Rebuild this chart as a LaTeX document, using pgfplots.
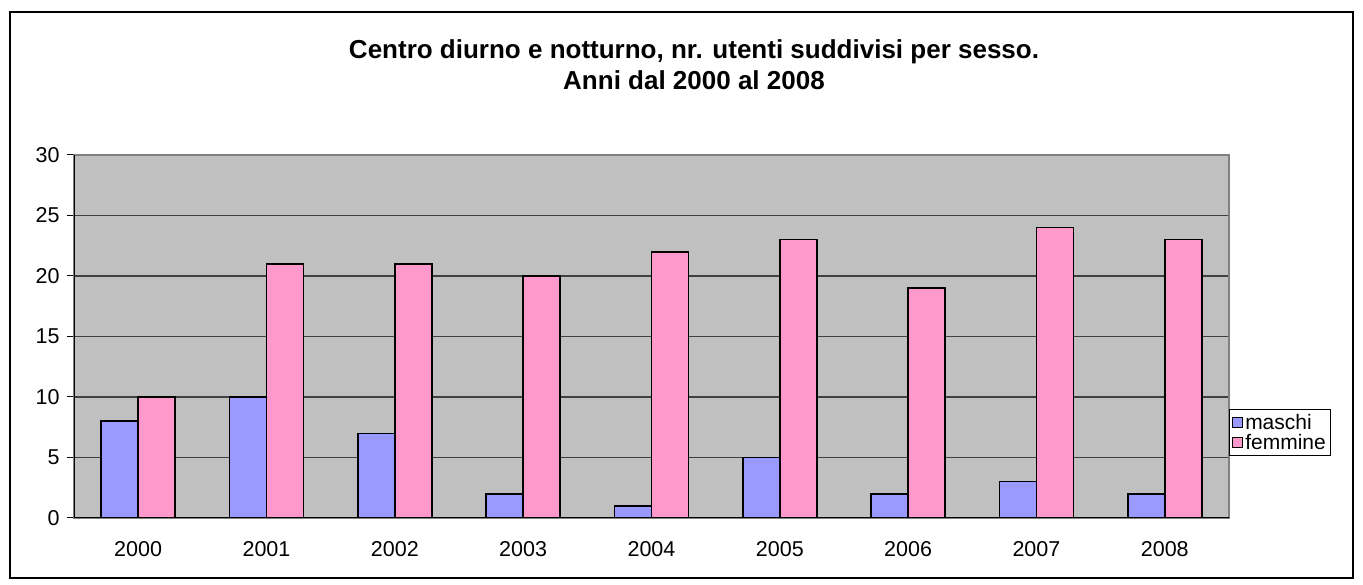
\documentclass[border=0pt]{standalone}
\usepackage{fontspec}
\setmainfont{Liberation Sans}
\usepackage{pgfplots}
\pgfplotsset{compat=1.18}
\definecolor{bgray}{RGB}{192,192,192}
\definecolor{cmaschi}{RGB}{153,153,255}
\definecolor{cfemmine}{RGB}{255,153,204}
\begin{document}
\begin{tikzpicture}[x=1pt,y=1pt]
\path (0,0) rectangle (1363,585);
\draw[line width=1.3pt] (10,7) rectangle (1353,573);
\node[font=\fontsize{26}{31}\selectfont\bfseries, align=center] at (694,520) {Centro diurno e notturno, nr. utenti suddivisi per sesso.\\Anni dal 2000 al 2008};
\begin{axis}[
  at={(74pt,67pt)}, anchor=south west,
  scale only axis, width=1155pt, height=363pt,
  xmin=-0.5, xmax=8.5, ymin=0, ymax=30,
  ytick={0,5,...,30},
  xtick={0,...,8},
  xticklabels={2000,2001,2002,2003,2004,2005,2006,2007,2008},
  extra x ticks={-0.5,0.5,...,8.5},
  extra x tick labels={},
  extra x tick style={major tick length=7pt, tick style={black, line width=1pt}, grid=none},
  x tick style={draw=none},
  y tick style={black, line width=1pt},
  tick pos=left,
  major tick length=7pt,
  tick align=outside,
  ymajorgrids,
  major grid style={draw=black!75, line width=1.2pt},
  axis line style={draw=black!50, line width=1.2pt},
  axis background/.style={fill=bgray},
  /pgf/number format/assume math mode=true,
  tick label style={font=\fontsize{21.5}{25}\selectfont},
  xticklabel style={yshift=-13pt},
  yticklabel style={xshift=-4pt},
  ybar, bar width=37pt,
  legend style={at={(1.0,0.2355)}, anchor=west, draw=black, line width=1pt,
    font=\fontsize{21}{24}\selectfont, row sep=0pt, inner xsep=3pt, inner ysep=2pt},
  legend cell align=left,
  legend image code/.code={\draw[#1, line width=0.8pt] (0pt,-5pt) rectangle (10pt,5pt);},
]
\addplot[fill=cmaschi, draw=black, line width=1.5pt, bar shift=-18.5pt] coordinates {(0,8) (1,10) (2,7) (3,2) (4,1) (5,5) (6,2) (7,3) (8,2)};
\addplot[fill=cfemmine, draw=black, line width=1.5pt, bar shift=18.5pt] coordinates {(0,10) (1,21) (2,21) (3,20) (4,22) (5,23) (6,19) (7,24) (8,23)};
\legend{maschi,femmine}
\draw[black, line width=1.2pt] (rel axis cs:0,1) -- (rel axis cs:0,0) -- (rel axis cs:1,0);
\end{axis}
\end{tikzpicture}
\end{document}
